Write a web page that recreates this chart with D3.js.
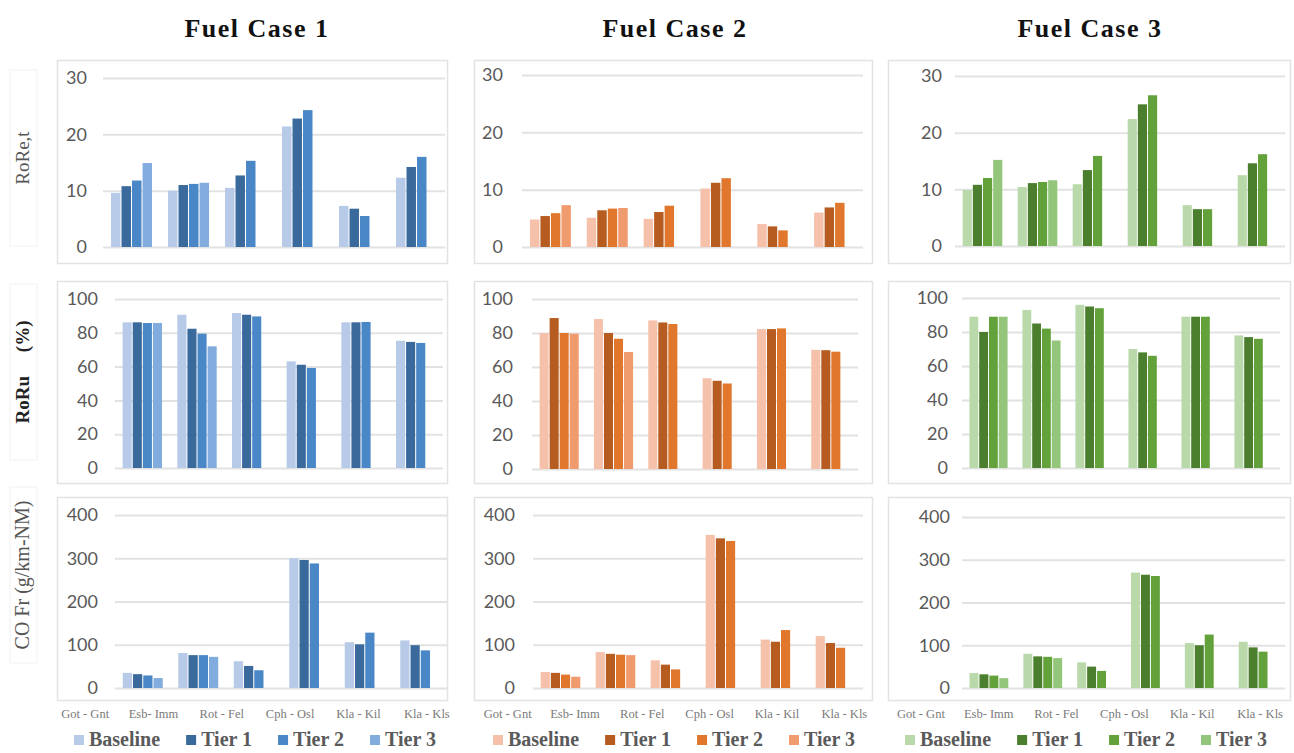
<!DOCTYPE html>
<html><head><meta charset="utf-8">
<script src="https://cdn.jsdelivr.net/npm/d3@7"></script>
<style>body{margin:0;background:#fff}svg{display:block}</style>
</head><body>
<svg id="c" width="1294" height="753"></svg>
<script>
// ---------- data ----------
const categories = ["Got - Gnt","Esb- Imm","Rot - Fel","Cph - Osl","Kla - Kil","Kla - Kls"];
const seriesNames = ["Baseline","Tier 1","Tier 2","Tier 3"];
const fuelCases = ["Fuel Case 1","Fuel Case 2","Fuel Case 3"];
const rowLabels = ["RoRe,t","RoRu     (%)","CO Fr (g/km-NM)"];
const rowTicks = [[0,10,20,30],[0,20,40,60,80,100],[0,100,200,300,400]];

// each: [Baseline, Tier1, Tier2, Tier3] x categories (null = no bar)
const fc1RoRe = [[9.6,10.0,10.5,21.4,7.3,12.3],[10.8,11.0,12.7,22.8,6.8,14.2],[11.8,11.2,15.3,24.3,5.5,16.0],[14.9,11.4,null,null,null,null]];
const fc1RoRu = [[86.2,90.7,91.7,63.1,86.2,75.3],[86.2,82.4,90.7,61.1,86.2,74.6],[85.8,79.5,89.7,59.2,86.4,74.0],[85.8,72.0,null,null,null,null]];
const fc1CO   = [[35,81,62,300,106,110],[32,76,51,296,101,99],[29,76,41,288,128,87],[23,72,null,null,null,null]];
const fc2RoRe = [[4.8,5.1,4.9,10.2,4.0,6.0],[5.4,6.4,6.1,11.2,3.6,6.9],[5.9,6.7,7.2,12.0,2.9,7.7],[7.3,6.8,null,null,null,null]];
const fc2RoRu = [[80.0,88.2,87.4,53.4,82.3,70.1],[88.8,80.0,86.2,51.9,82.3,69.9],[80.0,76.6,85.3,50.3,82.7,69.0],[79.6,68.8,null,null,null,null]];
const fc2CO   = [[37,83,64,354,112,120],[35,79,54,346,107,104],[31,77,43,340,134,93],[26,76,null,null,null,null]];
const fc3RoRe = [[9.9,10.4,10.9,22.4,7.2,12.5],[10.8,11.1,13.4,25.0,6.5,14.6],[12.0,11.3,15.9,26.6,6.5,16.2],[15.2,11.6,null,null,null,null]];
const fc3RoRu = [[89,93,96,70,89,78],[80,85,95,68,89,77],[89,82,94,66,89,76],[89,75,null,null,null,null]];
const fc3CO   = [[35,80,60,270,105,108],[32,74,50,265,100,95],[29,73,40,262,125,85],[23,70,null,null,null,null]];

const panelData = [[fc1RoRe,fc2RoRe,fc3RoRe],[fc1RoRu,fc2RoRu,fc3RoRu],[fc1CO,fc2CO,fc3CO]];

// ---------- styles / layout ----------
const SERIF = "'Liberation Serif', 'DejaVu Serif', serif";
const palettes = [
  ["#b7cbe8","#3a6a9c","#4a87c6","#82acdd"],
  ["#f6c1ab","#b75c20","#e0772c","#ef9b6e"],
  ["#bad9ab","#4b7e2d","#63a23b","#93c67b"]
];
const colBoxes = [{x:57,w:390},{x:474,w:398},{x:888,w:402}];
const rowBoxes = [{y:60,h:203},{y:281,h:202},{y:497,h:203}];
const plots = [
  [{l:103,r:445,t:78,z:247,tr:87},{l:115,r:443,t:299,z:468,tr:98},{l:115,r:448,t:515,z:688,tr:98}],
  [{l:522,r:863,t:75,z:247,tr:503},{l:532,r:858,t:299,z:469,tr:513},{l:533,r:863,t:515,z:688,tr:515}],
  [{l:955,r:1285,t:76,z:246,tr:942},{l:962,r:1280,t:298,z:468,tr:948},{l:962,r:1285,t:517,z:688,tr:950}]
];
const titleX = [257,675,1090];
const labelCols = [[51,461],[474,878],[887,1294]];
const legendStart = [74,493,905];
const rowLabelY = [158,372,575];

const svg = d3.select("#c");

// titles
svg.selectAll("text.title").data(fuelCases).join("text")
  .attr("class","title")
  .attr("x",(d,i)=>titleX[i]).attr("y",37)
  .attr("text-anchor","middle")
  .style("font-family",SERIF).style("font-weight","bold")
  .style("font-size","26px").style("letter-spacing","1.5px").attr("fill","#111")
  .text(d=>d);

// row labels
rowLabels.forEach((lab,ri)=>{
  svg.append("rect").attr("x",10).attr("y",rowLabelY[ri]-88).attr("width",27).attr("height",176)
    .attr("fill","none").attr("stroke","#f2f2f2");
  svg.append("text")
    .attr("transform",`translate(29,${rowLabelY[ri]}) rotate(-90)`)
    .attr("text-anchor","middle")
    .style("font-family",SERIF)
    .style("font-weight", ri===1?"bold":"normal")
    .style("font-size", ri===2?"20px":"19px").attr("fill", ri===1?"#222":"#555")
    .style("white-space","pre")
    .text(lab);
});

for (let ci=0; ci<3; ci++){
  for (let ri=0; ri<3; ri++){
    const P = plots[ci][ri];
    const data = panelData[ri][ci];
    const ticks = rowTicks[ri];
    const g = svg.append("g");
    g.append("rect").attr("x",colBoxes[ci].x+0.5).attr("y",rowBoxes[ri].y+0.5)
      .attr("width",colBoxes[ci].w).attr("height",rowBoxes[ri].h)
      .attr("fill","none").attr("stroke","#e3e3e3").attr("stroke-width",1.5);
    const y = d3.scaleLinear().domain([0,ticks[ticks.length-1]]).range([P.z,P.t]);
    const x = d3.scaleBand().domain(categories).range([P.l,P.r]).paddingInner(0.28).paddingOuter(0.14);
    const xs = d3.scaleBand().domain(seriesNames).range([0,x.bandwidth()]).paddingInner(0.1);
    g.append("g").attr("transform",`translate(${P.l},0)`)
      .call(d3.axisLeft(y).tickValues(ticks).tickSize(-(P.r-P.l)).tickFormat(""))
      .call(s=>s.select(".domain").remove())
      .call(s=>s.selectAll("line").attr("stroke","#e2e2e2").attr("stroke-width",2));
    g.append("g").attr("transform",`translate(${P.tr},0)`)
      .call(d3.axisLeft(y).tickValues(ticks).tickSize(0).tickPadding(0))
      .call(s=>s.select(".domain").remove())
      .call(s=>s.selectAll("text").style("font-family","Lato, sans-serif").style("font-size","18px").attr("fill","#595959"));
    seriesNames.forEach((sn,si)=>{
      const vals = data[si].map((v,k)=>({c:categories[k],v:v})).filter(d=>d.v!==null);
      g.append("g").selectAll("rect").data(vals).join("rect")
        .attr("x",d=>x(d.c)+xs(sn)).attr("width",xs.bandwidth())
        .attr("y",d=>y(d.v)).attr("height",d=>y(0)-y(d.v))
        .attr("fill",palettes[ci][si]);
    });
  }
  const xl = d3.scaleBand().domain(categories).range(labelCols[ci]);
  svg.append("g").selectAll("text").data(categories).join("text")
    .attr("x",d=>xl(d)+xl.bandwidth()/2).attr("y",718)
    .attr("text-anchor","middle")
    .style("font-family",SERIF).style("font-size","12.5px").attr("fill","#7a7a7a")
    .text(d=>d);
  let lx = legendStart[ci];
  const lg = svg.append("g");
  seriesNames.forEach((sn,si)=>{
    lg.append("rect").attr("x",lx).attr("y",735).attr("width",10).attr("height",10).attr("fill",palettes[ci][si]);
    const t = lg.append("text").attr("x",lx+15).attr("y",746)
      .style("font-family",SERIF).style("font-weight","bold")
      .style("font-size","20px").attr("fill","#5a5a5a").text(sn);
    lx += 15 + t.node().getComputedTextLength() + 26;
  });
}
</script>
</body></html>
